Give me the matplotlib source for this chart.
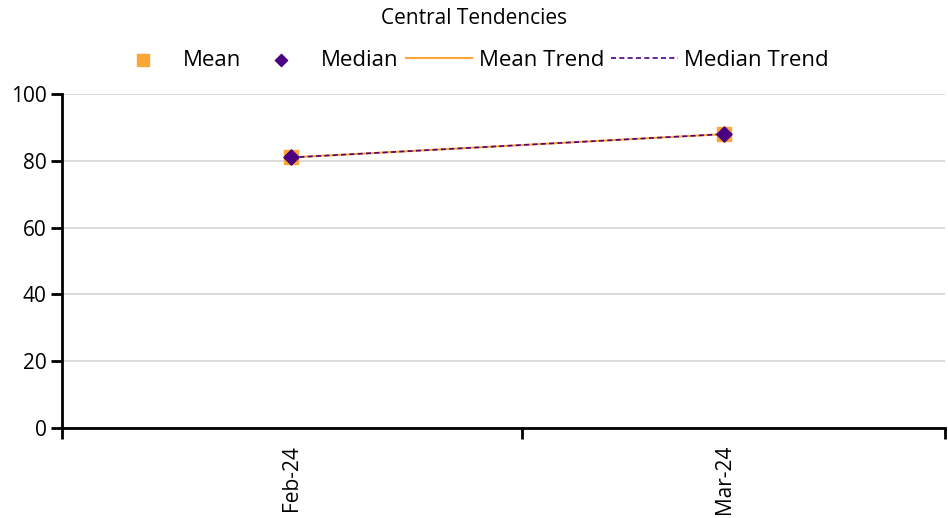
import matplotlib.pyplot as plt
import numpy as np

plt.rcParams['font.family'] = ['Open Sans', 'DejaVu Sans']

# Data
months = ['Feb-24', 'Mar-24']
mean_vals = [81, 88]
median_vals = [81, 88]

orange = '#FBA636'
purple = '#4B0082'

fig = plt.figure(figsize=(9.48, 5.18), dpi=100)
ax = fig.add_axes([0.0654, 0.1737, 0.9316, 0.6448])

x = np.arange(len(months))

ax.plot(x, mean_vals, color=orange, lw=1.5, label='Mean Trend', zorder=2)
ax.plot(x, median_vals, color=purple, lw=1.2, ls=(0, (3, 2)), label='Median Trend', zorder=3)
ax.scatter(x, mean_vals, marker='s', s=100, color=orange, label='Mean', zorder=4)
ax.scatter(x, median_vals, marker='D', s=60, color=purple, label='Median', zorder=5)

# axis spans a bit more on the left than the right, like a date axis
ax.set_xlim(-0.529, 1.51)
ax.set_ylim(0, 100)
ax.set_yticks(range(0, 101, 20))
ax.grid(axis='y', color='#d4d4d4', lw=1.2)
ax.set_axisbelow(True)

ax.set_xticks([-0.529, 0.533, 1.51])
ax.set_xticklabels([])
ax.set_xticks(x, minor=True)
ax.set_xticklabels(months, minor=True, rotation=90, fontsize=15)
ax.tick_params(axis='x', which='minor', length=0, pad=12)
ax.tick_params(axis='x', which='major', length=8, width=2, direction='out')
ax.tick_params(axis='y', length=8, width=2, labelsize=15, pad=3)

for s in ['top', 'right']:
    ax.spines[s].set_visible(False)
for s in ['left', 'bottom']:
    ax.spines[s].set_linewidth(2)

handles, labels = ax.get_legend_handles_labels()
order = [2, 3, 0, 1]
fig.legend([handles[i] for i in order], [labels[i] for i in order],
           loc='center', bbox_to_anchor=(0.495, 0.884), ncol=4, frameon=False,
           fontsize=16, handlelength=3.0, columnspacing=0.3, handletextpad=0.3,
           markerscale=0.8)

fig.text(0.5, 0.965, 'Central Tendencies', ha='center', va='center', fontsize=15)

fig.savefig('out.png', dpi=100)
